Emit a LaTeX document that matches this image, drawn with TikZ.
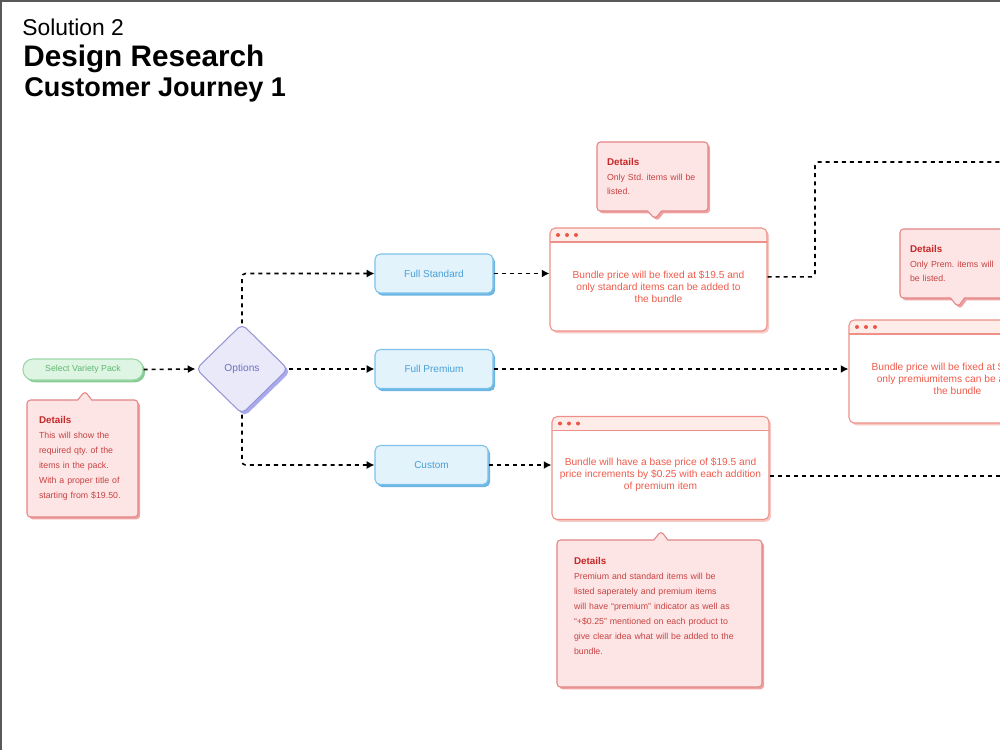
\documentclass[tikz,border=0pt]{standalone}
\usepackage{fontspec}
\setmainfont{Liberation Sans}
\usetikzlibrary{shapes.geometric,shapes.callouts,shadows,arrows.meta}
\frenchspacing
\newdimen\pu \pu=0.02cm
\definecolor{greenfill}{HTML}{DEF5E3}
\definecolor{greenline}{HTML}{9BD7A6}
\definecolor{greenshade}{HTML}{86CC93}
\definecolor{greentext}{HTML}{5FB872}
\definecolor{optfill}{HTML}{E9E9F9}
\definecolor{optline}{HTML}{9696D6}
\definecolor{optshade}{HTML}{A9A9EE}
\definecolor{opttext}{HTML}{6F6FC0}
\definecolor{choicefill}{HTML}{E2F3FC}
\definecolor{choiceline}{HTML}{7CC2EA}
\definecolor{choiceshade}{HTML}{6DB6E4}
\definecolor{choicetext}{HTML}{4A9ED6}
\definecolor{cardline}{HTML}{EE9087}
\definecolor{cardhead}{HTML}{FDECE8}
\definecolor{carddot}{HTML}{EC5646}
\definecolor{cardtext}{HTML}{EF5B4B}
\definecolor{cardshade}{HTML}{F7C9C2}
\definecolor{notefill}{HTML}{FDE5E5}
\definecolor{noteline}{HTML}{E38585}
\definecolor{noteshade}{HTML}{EFA3A3}
\definecolor{notetitle}{HTML}{C62828}
\definecolor{notetext}{HTML}{C84242}
\newcommand\dtitle{\textcolor{notetitle}{\bfseries\fontsize{5.6}{8.5}\selectfont Details}}
\tikzset{
  link/.style={black, line width=0.9pt, dash pattern=on 2.3pt off 2.3pt, rounded corners=2pt},
  tip/.style={-{Latex[length=4.4pt,width=4.6pt]}},
  pill/.style={draw=greenline, fill=greenfill, line width=0.6pt, rounded corners=10\pu,
    minimum width=120\pu, minimum height=21\pu, text=greentext,
    font=\fontsize{5}{6}\selectfont,
    drop shadow={shadow xshift=1.2pt, shadow yshift=-1.3pt, fill=greenshade, opacity=1}},
  optbox/.style={diamond, draw=optline, fill=optfill, line width=0.6pt, rounded corners=3pt,
    minimum width=92\pu, minimum height=90\pu, inner sep=0pt, text=opttext,
    font=\fontsize{5.8}{7}\selectfont,
    drop shadow={shadow xshift=1.5pt, shadow yshift=-1.5pt, fill=optshade, opacity=1}},
  choice/.style={draw=choiceline, fill=choicefill, line width=0.6pt, rounded corners=3pt,
    minimum width=118\pu, minimum height=39\pu, text=choicetext,
    font=\fontsize{5.7}{7}\selectfont,
    drop shadow={shadow xshift=1.2pt, shadow yshift=-1.5pt, fill=choiceshade, opacity=1}},
  card/.style={draw=cardline, fill=white, line width=0.6pt, rounded corners=3pt,
    minimum width=217\pu, minimum height=103\pu,
    drop shadow={shadow xshift=1.2pt, shadow yshift=-1.3pt, fill=cardshade, opacity=1},
    path picture={
      \fill[cardhead] (path picture bounding box.north west) rectangle ([yshift=-14\pu]path picture bounding box.north east);
      \draw[cardline, line width=0.6pt] ([yshift=-14\pu]path picture bounding box.north west) -- ([yshift=-14\pu]path picture bounding box.north east);
      \foreach \k in {8,17,26}
        \fill[carddot] ([xshift=\k\pu, yshift=-7\pu]path picture bounding box.north west) circle (2\pu);
    }},
  cardtxt/.style={text=cardtext, align=center, font=\fontsize{5.8}{6.8}\selectfont, yshift=-7\pu},
  note/.style={rectangle callout, draw=noteline, fill=notefill, line width=0.6pt, rounded corners=2pt,
    callout pointer width=14\pu, align=left, text=notetext, inner xsep=11\pu,
    font=\fontsize{5}{8.5}\selectfont,
    drop shadow={shadow xshift=1.2pt, shadow yshift=-1.3pt, fill=noteshade, opacity=1}},
  heading/.style={anchor=base west, inner sep=0pt}
}
\begin{document}
\begin{tikzpicture}[x=0.02cm, y=-0.02cm]
\useasboundingbox (0,0) rectangle (1000,750);
\clip (0,0) rectangle (1000,750);
\fill[white] (0,0) rectangle (1000,750);
\draw[black!65, line width=1.2pt] (1,750) -- (1,0.6) -- (1000,0.6);
% headings
\node[heading, font=\fontsize{13}{15}\selectfont] (sol) at (22,36) {Solution 2};
\node[heading, font=\bfseries\fontsize{16.9}{19}\selectfont] (design) at (23,67) {Design Research};
\node[heading, font=\bfseries\fontsize{15.4}{18}\selectfont] (journey) at (24,96) {Customer Journey 1};
% start and options
\node[pill] (pack) at (83,369.5) {Select Variety Pack};
\node[optbox] (opt) at (242,369) {Options};
\node[choice] (std) at (434,273.5) {Full Standard};
\node[choice] (prem) at (434,369) {Full Premium};
\node[choice, minimum width=113\pu] (cust) at (431.5,465) {Custom};
% bundle cards
\node[card, label={[cardtxt]center:{Bundle price will be fixed at \$19.5 and\\only standard items can be added to\\the bundle}}] (stdcard) at (658.5,279.5) {};
\node[card, label={[cardtxt]center:{Bundle price will be fixed at \$19.5 and\\only premiumitems can be added to\\the bundle}}] (premcard) at (957.5,371.5) {};
\node[card, label={[cardtxt]center:{Bundle will have a base price of \$19.5 and\\price increments by \$0.25 with each addition\\of premium item}}] (custcard) at (660.5,468) {};
% details
\node[note, text width=87\pu, inner xsep=12\pu, minimum height=117\pu, callout absolute pointer={(85,391)}] (packnote) at (82.5,458.5)
  {\dtitle\\This will show the\\required qty. of the\\items in the pack.\\With a proper title of\\starting from \$19.50.};
\node[note, text width=91\pu, inner xsep=10\pu, minimum height=69\pu, callout absolute pointer={(655,219)}] (stdnote) at (652.5,176.5)
  {\dtitle\\Only Std. items will be\\listed.};
\node[note, text width=91\pu, inner xsep=10\pu, minimum height=69\pu, callout absolute pointer={(958,307)}] (premnote) at (955.5,263.5)
  {\dtitle\\Only Prem. items will\\be listed.};
\node[note, text width=171\pu, inner xsep=17\pu, minimum height=147\pu, callout absolute pointer={(661,531)}] (custnote) at (659.5,613.5)
  {\dtitle\\Premium and standard items will be\\listed saperately and premium items\\will have ``premium'' indicator as well as\\``+\$0.25'' mentioned on each product to\\give clear idea what will be added to the\\bundle.\\ \mbox{}};
% connectors
\coordinate (bend) at (815,162);
\coordinate (exitA) at (1000,162);
\coordinate (exitB) at (1000,476);
\draw[link,tip] (pack.east) -- (opt.west);
\draw[link,tip] (opt.north) |- (std.west);
\draw[link,tip] (opt.east) -- (prem.west);
\draw[link,tip] (opt.south) |- (cust.west);
\draw[link,tip] (std.east) -- (std.east -| stdcard.west);
\draw[link,tip] (prem.east) -- (prem.east -| premcard.west);
\draw[link,tip] (cust.east) -- (cust.east -| custcard.west);
\draw[link] ([yshift=1.5pt]stdcard.east) -| (bend) -- (exitA);
\draw[link] (custcard.east |- exitB) -- (exitB);
\end{tikzpicture}
\end{document}
